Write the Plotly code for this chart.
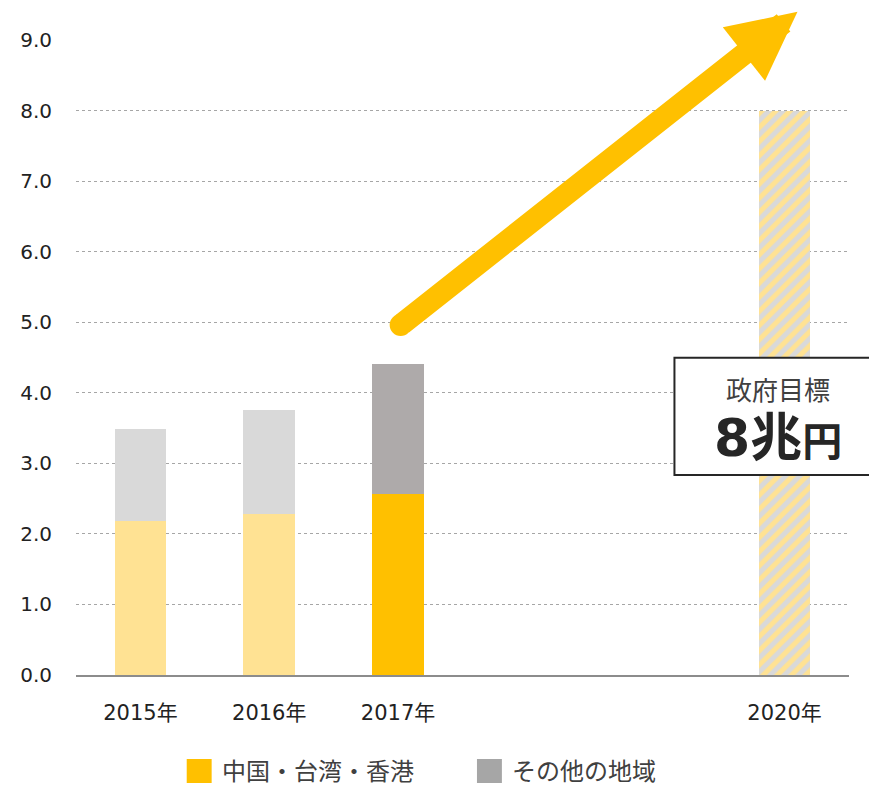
import plotly.graph_objects as go

# ---- data ----
years = [2015, 2016, 2017]
year_labels = ["2015年", "2016年", "2017年", "2020年"]
tick_years = [2015, 2016, 2017, 2020]
china_hk_tw = [2.18, 2.28, 2.57]      # 中国・台湾・香港 (兆円)
other_regions = [1.30, 1.47, 1.84]    # その他の地域 (兆円)
target_year = [2020]
target_value = [8.0]                  # 政府目標
series_names = ["中国・台湾・香港", "その他の地域"]
y_ticks = [0, 1, 2, 3, 4, 5, 6, 7, 8, 9]

# styles
china_colors = ["#FFE293", "#FFE293", "#FFC000"]
other_colors = ["#D9D9D9", "#D9D9D9", "#AEAAAA"]
legend_colors = ["#FFC000", "#A6A6A6"]
GOLD = "#FFC000"
FONT = "DejaVu Sans, Noto Sans CJK JP, sans-serif"

# page has an 8px body margin; compensate so the plot lands where the reference has it
W, H = 869, 777
ML, MT, MB = 66, 32, 110
PLOT_W = 775
PLOT_H = H - MT - MB

fig = go.Figure()
fig.add_bar(x=years, y=china_hk_tw, marker=dict(color=china_colors, line=dict(width=0)),
            width=0.4, showlegend=False, name=series_names[0])
fig.add_bar(x=years, y=other_regions, marker=dict(color=other_colors, line=dict(width=0)),
            width=0.4, showlegend=False, name=series_names[1])
fig.add_bar(x=target_year, y=target_value, width=0.4, showlegend=False, name="政府目標",
            marker=dict(color="#FFE293", line=dict(width=0),
                        pattern=dict(shape="/", bgcolor="#FFE293", fgcolor="#D9D9D9",
                                     fgopacity=1, size=10, solidity=0.5)))

fig.update_layout(
    barmode="stack",
    width=W, height=H,
    margin=dict(l=ML, r=W - ML - PLOT_W, t=MT, b=MB, pad=0),
    plot_bgcolor="white", paper_bgcolor="white",
    font=dict(family=FONT, color="#222222", size=18),
    xaxis=dict(range=[2014.5, 2020.5], tickvals=tick_years, ticktext=year_labels,
               showgrid=False, zeroline=False, showline=True, linecolor="#8C8C8C",
               linewidth=1.5, ticks="", ticklabelstandoff=18,
               tickfont=dict(size=21, color="#222222")),
    yaxis=dict(range=[0, 9], tickvals=y_ticks, tickformat=".1f",
               showgrid=True, gridcolor="#A6A6A6", gridwidth=1, griddash="dot",
               zeroline=False, showline=False, ticks="", ticklabelstandoff=23,
               tickfont=dict(size=20, color="#222222")),
)

def py(pix_y):
    # reference pixel row -> paper y
    return (675 - pix_y) / PLOT_H

def px(pix_x):
    return (pix_x - 74) / PLOT_W

# arrow
tail_x, tail_y = 2017.02, 4.96
tip_x, tip_y = 2020.10, 9.40
fig.add_annotation(x=tip_x, y=tip_y, ax=tail_x, ay=tail_y, xref="x", yref="y",
                   axref="x", ayref="y", text="", showarrow=True, arrowhead=2,
                   arrowwidth=22, arrowsize=0.62, arrowcolor=GOLD, standoff=0)
fig.add_shape(type="circle", xref="x", yref="y", xsizemode="pixel", ysizemode="pixel",
              xanchor=tail_x, yanchor=tail_y, x0=-11, x1=11, y0=-11, y1=11,
              fillcolor=GOLD, line=dict(width=0), layer="above")

# target box
fig.add_shape(type="rect", xref="paper", yref="y", x0=px(674), x1=1.06, y0=2.835, y1=4.496,
              fillcolor="white", line=dict(color="#262626", width=2), layer="above")
fig.add_annotation(x=2019.95, y=4.03, xref="x", yref="y", text="政府目標", showarrow=False,
                   font=dict(size=26, color="#404040"))
fig.add_annotation(x=2019.95, y=3.36, xref="x", yref="y", showarrow=False,
                   text="<b><span style='font-size:52px'>8兆</span><span style='font-size:40px'>円</span></b>",
                   font=dict(color="#262626"))

# manual legend
sq = [(185, 210), (476, 501)]
txt_x = [218, 509]
for (x0, x1), tx, name, col in zip(sq, txt_x, series_names, legend_colors):
    fig.add_shape(type="rect", xref="paper", yref="paper", x0=px(x0), x1=px(x1),
                  y0=py(783), y1=py(759), fillcolor=col, line=dict(width=0))
    fig.add_annotation(x=px(tx), y=py(772), xref="paper", yref="paper", xanchor="left",
                       yanchor="middle", text=name, showarrow=False,
                       font=dict(size=24, color="#404040"))

fig.write_html("out.html")
